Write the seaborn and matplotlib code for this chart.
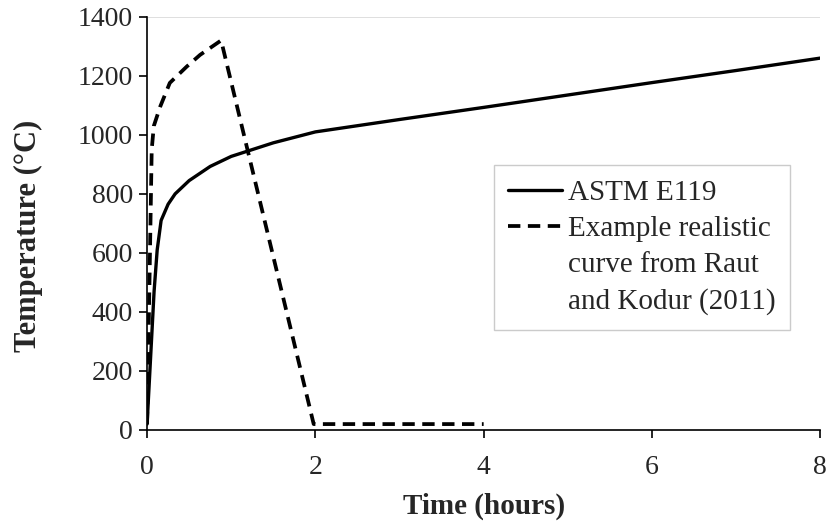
import matplotlib
matplotlib.use("Agg")
import matplotlib.pyplot as plt
from matplotlib.lines import Line2D
import seaborn as sns
import pandas as pd

# ASTM E119 standard fire curve (hours, °C)
astm_time = [0, 0.0833, 0.12, 0.1667, 0.25, 0.3333, 0.5, 0.75, 1.0, 1.5, 2.0, 3.0, 4.0, 5.0, 6.0, 7.0, 8.0]
astm_temp = [20, 470, 610, 710, 765, 800, 845, 893, 927, 973, 1010, 1052, 1093, 1135, 1177, 1218, 1260]

# Example realistic curve (Raut and Kodur 2011)
real_time = [0, 0.055, 0.08, 0.155, 0.27, 0.47, 0.63, 0.88, 1.98, 2.0, 4.0]
real_temp = [20, 950, 1030, 1095, 1176, 1231, 1271, 1320, 20, 20, 20]

labels = ["ASTM E119", "Example realistic", "curve from Raut", "and Kodur (2011)"]
x_ticks = [0, 2, 4, 6, 8]
y_ticks = [0, 200, 400, 600, 800, 1000, 1200, 1400]

df_astm = pd.DataFrame({"Time": astm_time, "Temp": astm_temp})
df_real = pd.DataFrame({"Time": real_time, "Temp": real_temp})

sns.set_style("white")
plt.rcParams["font.family"] = ["Liberation Serif", "DejaVu Serif"]

fig = plt.figure(figsize=(8.31, 5.25), dpi=100)
ax = fig.add_axes([0.177, 0.181, 0.81, 0.787])

sns.lineplot(data=df_astm, x="Time", y="Temp", ax=ax, color="black",
             linewidth=2.4, sort=False, estimator=None)
sns.lineplot(data=df_real, x="Time", y="Temp", ax=ax, color="black",
             linewidth=2.7, sort=False, estimator=None)
ax.lines[1].set_dashes([3.3, 2.0])

ax.axhline(1400, color="#d9d9d9", lw=1.2, zorder=0)

ax.set_xlim(0, 8)
ax.set_ylim(0, 1400)
ax.set_xticks(x_ticks)
ax.set_yticks(y_ticks)
ax.tick_params(axis="both", labelsize=20, direction="out", length=6, width=1.2,
               color="black", left=True, bottom=True)
ax.tick_params(axis="x", pad=12)
ax.tick_params(axis="y", pad=4)
for s in ["top", "right"]:
    ax.spines[s].set_visible(False)
for s in ["left", "bottom"]:
    ax.spines[s].set_color("black")
    ax.spines[s].set_linewidth(1.2)

ax.set_xlabel("Time (hours)", fontsize=21, fontweight="bold", labelpad=9)
ax.set_ylabel("Temperature (°C)", fontsize=22, fontweight="bold")
ax.yaxis.set_label_coords(-0.154, 0.47)

h_solid = Line2D([], [], color="black", lw=2.4)
h_dash = Line2D([], [], color="black", lw=2.7, dashes=[3.3, 2.0])
h_none = Line2D([], [], color="none", lw=0)
leg = ax.legend([h_solid, h_dash, h_none, h_none], labels,
                loc="upper left", bbox_to_anchor=(0.515, 0.642), fontsize=21,
                frameon=True, fancybox=False, handlelength=1.85, handletextpad=0.2,
                borderpad=0.5, labelspacing=0.34, borderaxespad=0)
leg.get_frame().set_edgecolor("#bfbfbf")
leg.get_frame().set_linewidth(1.0)

fig.savefig("out.png", dpi=100)
